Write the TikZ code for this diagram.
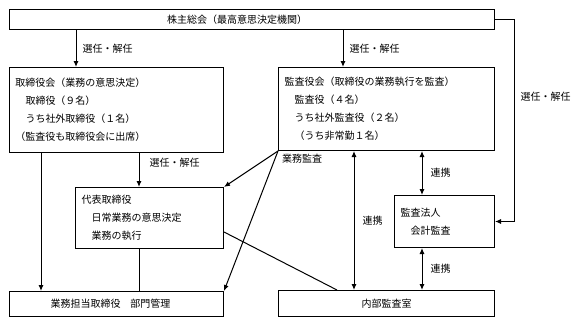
\documentclass[tikz,border=0pt]{standalone}
\usepackage{fontspec}
\setmainfont{Noto Sans CJK JP}
\usetikzlibrary{positioning,arrows.meta,calc}
\tikzset{
	x=1pt, y=-1pt, % pixel-like units, y grows downwards
	my box/.style = {draw, rectangle, line width=1pt, inner xsep=6pt, inner ysep=0pt, anchor=north west, font=\fontsize{10}{18}\selectfont}, % boxes are placed by their top left corner
	my edge/.style = {-, line width=1pt},
	my arrow/.style = {-{Latex[length=6pt,width=5pt]}, line width=1pt},
	both arrow/.style = {{Latex[length=6pt,width=5pt]}-{Latex[length=6pt,width=5pt]}, line width=1pt},
	el/.style = {font=\fontsize{10}{12}\selectfont, inner sep=2pt}
}

\begin{document}
\begin{tikzpicture}
            \useasboundingbox (0,0) rectangle (584,324);
            \node[my box, minimum width=485, minimum height=20] (gm) at (9,9) {株主総会（最高意思決定機関）\hspace*{30pt}};
            \node[my box, minimum width=214, minimum height=85, text width=202, align=left] (board) at (9,67) {取締役会（業務の意思決定）\\\hspace*{1em}取締役（９名）\\\hspace*{1em}うち社外取締役（１名）\\（監査役も取締役会に出席）};
            \node[my box, minimum width=216, minimum height=83, text width=204, align=left] (kansa) at (278,67) {監査役会（取締役の業務執行を監査）\\\hspace*{1em}監査役（４名）\\\hspace*{1em}うち社外監査役（２名）\\\hspace*{1em}（うち非常勤１名）};
            \node[my box, minimum width=148, minimum height=61, text width=136, align=left] (ceo) at (75,187) {代表取締役\\\hspace*{1em}日常業務の意思決定\\\hspace*{1em}業務の執行};
            \node[my box, minimum width=100, minimum height=52, text width=88, align=left] (firm) at (394,195) {監査法人\\\hspace*{1em}会計監査};
            \node[my box, minimum width=214, minimum height=25] (exec) at (9,291) {業務担当取締役　部門管理\hspace*{12pt}};
            \node[my box, minimum width=216, minimum height=26] (naibu) at (278,290) {内部監査室};
            % appointment
            \draw[my arrow] (gm.south -| 76,0) -- node[right=4pt, el] {選任・解任} (board.north -| 76,0);
            \draw[my arrow] (gm.south -| 343,0) -- node[right=4pt, el] {選任・解任} (kansa.north -| 343,0);
            \draw[my arrow] (gm.east) -- ++(19,0) -- node[pos=0.38, right=4pt, el] {選任・解任} ++(0,202) -- (firm.east);
            \draw[my arrow] (board.south -| 41,0) -- (exec.north -| 41,0);
            \draw[my arrow] (board.south -| 139,0) -- node[pos=0.3, right=8pt, el] {選任・解任} (ceo.north -| 139,0);
            \draw[my edge] (ceo.south -| 139,0) -- (exec.north -| 139,0);
            % audit
            \draw[my arrow] (kansa.south west) -- (ceo.north east);
            \draw[my arrow] (kansa.south west) -- (exec.north east);
            \node[el, below right=1pt and 2pt of kansa.south west] (audit) {業務監査};
            \draw[my edge] (ceo.east |- 0,232) -- (naibu.north -| 337,0);
            % cooperation
            \draw[both arrow] (kansa.south -| 354,0) -- node[right=6pt, el] {連携} (naibu.north -| 354,0);
            \draw[both arrow] (kansa.south -| 422,0) -- node[right=6pt, el] {連携} (firm.north -| 422,0);
            \draw[both arrow] (firm.south -| 422,0) -- node[right=6pt, el] {連携} (naibu.north -| 422,0);
\end{tikzpicture}
\end{document}
